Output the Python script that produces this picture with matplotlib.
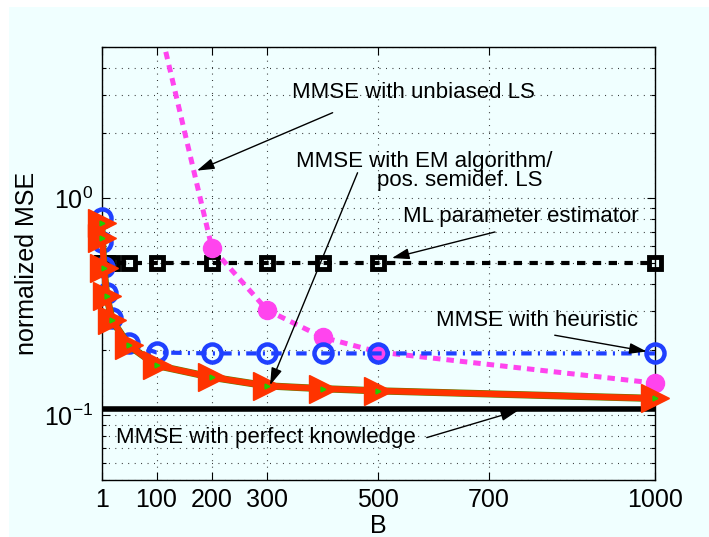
import matplotlib.pyplot as plt
import matplotlib.patches as patches
import numpy as np

plt.rcParams['font.family'] = ['Liberation Sans', 'DejaVu Sans']
plt.rcParams['mathtext.fontset'] = 'custom'
plt.rcParams['mathtext.rm'] = 'Liberation Sans'
plt.rcParams['mathtext.default'] = 'regular'

# data
B = [1, 2, 5, 10, 20, 50, 100, 200, 300, 400, 500, 1000]
mse_perfect = [0.1066] * len(B)
mse_ml = [0.5] * len(B)
mse_heuristic = [0.81, 0.63, 0.48, 0.364, 0.279, 0.214, 0.194, 0.192, 0.192, 0.192, 0.192, 0.192]
mse_em = [0.766, 0.655, 0.477, 0.354, 0.273, 0.209, 0.169, 0.149, 0.136, 0.132, 0.129, 0.119]
mse_psd = [0.766, 0.655, 0.477, 0.354, 0.273, 0.209, 0.169, 0.149, 0.136, 0.132, 0.129, 0.119]
B_unbiased = [100, 200, 300, 400, 500, 1000]
mse_unbiased = [7.2, 0.59, 0.304, 0.228, 0.195, 0.14]

xticks = [1, 100, 200, 300, 500, 700, 1000]

fig = plt.figure(figsize=(7.09, 5.37), dpi=100, facecolor='white')
fig.patches.append(patches.Rectangle((9 / 709, 0), 1, 1 - 7 / 537, transform=fig.transFigure,
                                     facecolor='#f0ffff', edgecolor='none', zorder=-10))
ax = fig.add_axes([0.1434, 0.1061, 0.7804, 0.8069])
ax.set_facecolor('#f0ffff')

ax.plot(B, mse_perfect, '-', color='black', lw=4, zorder=3)
ax.plot(B, mse_ml, '--', color='black', lw=3, dashes=(2, 1.8), clip_on=False,
        marker='s', ms=8, mfc='none', mec='black', mew=3.5, zorder=3)
# unbiased LS: line clipped at the top, markers not clipped at the right edge
ax.plot(B_unbiased, mse_unbiased, '--', color='#ff44ee', lw=3.6, dashes=(1.5, 1.2), zorder=4)
ax.plot(B_unbiased[1:], mse_unbiased[1:], linestyle='none', marker='o', ms=13,
        color='#ff44ee', zorder=4, clip_on=False)
ax.plot(B, mse_heuristic, '-.', color='#1f40ff', lw=3, dashes=(2.5, 1.5, 0.5, 1.5),
        marker='o', ms=13, mfc='none', mec='#1f40ff', mew=3.2, zorder=4, clip_on=False)
ax.plot(B, mse_em, '-', color='#6a7a00', lw=5.2, zorder=5)
ax.plot(B, mse_psd, '-', color='#ff3300', lw=4.4, marker='>', ms=20,
        mfc='#ff3300', mec='#ff3300', zorder=6, clip_on=False)
ax.plot(B, mse_em, linestyle='none', marker='>', ms=3.5, color='#22cc00', zorder=7,
        clip_on=False)

ax.set_yscale('log')
ax.set_xlim(1, 1000)
ax.set_ylim(0.05, 5)
ax.set_xticks(xticks)
ax.set_xticklabels([str(t) for t in xticks])
ax.set_yticks([0.1, 1])

grid_style = dict(linestyle=(0, (0.8, 5)), color='#202020', lw=0.8)
ax.grid(True, which='major', **grid_style)
ax.grid(True, which='minor', axis='y', **grid_style)
ax.tick_params(which='both', direction='in', top=True, right=True, labelsize=18, pad=6)
ax.tick_params(which='major', length=6, width=0.8)
ax.tick_params(which='minor', length=3, width=0.8)
ax.set_xlabel('B', fontsize=18, labelpad=1)
ax.set_ylabel('normalized MSE', fontsize=18, labelpad=4)
for s in ax.spines.values():
    s.set_linewidth(1)

arrow = dict(arrowstyle='-|>,head_length=0.7,head_width=0.22', mutation_scale=15,
             lw=1, color='black', shrinkA=0, shrinkB=0)

def note(text, xy_text, tail, tip, ha='center'):
    ax.text(xy_text[0], xy_text[1], text, fontsize=16, ha=ha, va='center', zorder=8)
    ax.annotate('', xy=tip, xytext=tail, arrowprops=arrow, zorder=8)

note('MMSE with unbiased LS', (563, 3.07), (418, 2.48), (173, 1.34))
ax.text(584, 1.47, 'MMSE with EM algorithm/', fontsize=16, ha='center', va='center', zorder=8)
note('pos. semidef. LS', (648, 1.20), (463, 1.31), (305, 0.137))
note('ML parameter estimator', (758, 0.819), (711, 0.698), (525, 0.529))
note('MMSE with heuristic', (787, 0.273), (819, 0.233), (985, 0.196))
note('MMSE with perfect knowledge', (27, 0.0785), (588, 0.0785), (753, 0.1047), ha='left')

plt.savefig('out.png', dpi=100)
